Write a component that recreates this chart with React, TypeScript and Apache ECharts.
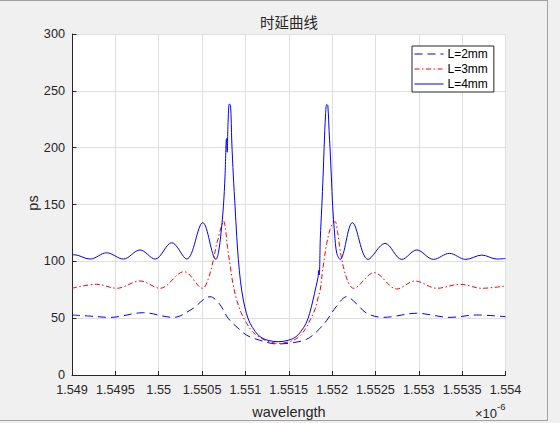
import React, { useEffect, useRef } from "react";
import * as echarts from "echarts";

// wavelength in nm (axis labels shown in µm ×10^-6 m), delay in ps
const title = "时延曲线";
const legendNames = ["L=2mm", "L=3mm", "L=4mm"];

const wl2 = [1549.0, 1549.208, 1549.438, 1549.823, 1550.169, 1550.384, 1550.592, 1550.696, 1550.8, 1550.904, 1551.015, 1551.169, 1551.365, 1551.538, 1551.708, 1551.827, 1551.938, 1552.046, 1552.169, 1552.277, 1552.4, 1552.592, 1552.977, 1553.361, 1553.669, 1554.0];
const ps2 = [52.8, 51.8, 50.7, 54.8, 50.7, 58, 68.9, 63, 50, 42, 35, 30.5, 27.3, 28.3, 31.5, 38.5, 48, 60, 68.9, 63, 54.3, 50.7, 54.3, 50.7, 52.8, 51.3];

const wl3 = [1549.0, 1549.285, 1549.516, 1549.785, 1550.015, 1550.292, 1550.508, 1550.569, 1550.63, 1550.667, 1550.69, 1550.699, 1550.725, 1550.748, 1550.771, 1550.794, 1550.823, 1550.857, 1550.9, 1550.95, 1551.015, 1551.088, 1551.169, 1551.261, 1551.388, 1551.515, 1551.607, 1551.688, 1551.746, 1551.804, 1551.842, 1551.861, 1551.884, 1551.913, 1551.938, 1551.976, 1552.005, 1552.034, 1552.063, 1552.092, 1552.13, 1552.184, 1552.246, 1552.484, 1552.746, 1552.957, 1553.208, 1553.477, 1553.727, 1554.0];
const ps3 = [76.3, 79.8, 76.3, 82.7, 76.3, 90.9, 76.3, 84, 101, 115, 121, 124.6, 131, 135.5, 128, 112, 97, 80, 66, 55, 45.5, 37.5, 33, 29.5, 27.8, 29.5, 33, 40, 48.4, 58, 69, 74, 88, 104, 115.8, 128, 133, 135, 126, 110, 95.3, 82, 76.3, 90, 75.7, 82.7, 76.3, 79.8, 76.3, 78.3];

const wl4 = [1549.0, 1549.023, 1549.208, 1549.4, 1549.592, 1549.785, 1549.958, 1550.15, 1550.323, 1550.508, 1550.661, 1550.69, 1550.719, 1550.746, 1550.765, 1550.782, 1550.79, 1550.8, 1550.815, 1550.829, 1550.843, 1550.861, 1550.881, 1550.9, 1550.919, 1550.944, 1550.976, 1551.013, 1551.054, 1551.111, 1551.169, 1551.261, 1551.377, 1551.492, 1551.584, 1551.642, 1551.7, 1551.74, 1551.78, 1551.815, 1551.838, 1551.845, 1551.852, 1551.864, 1551.881, 1551.896, 1551.908, 1551.925, 1551.938, 1551.951, 1551.965, 1551.976, 1551.991, 1552.007, 1552.028, 1552.054, 1552.092, 1552.234, 1552.415, 1552.611, 1552.804, 1552.977, 1553.168, 1553.353, 1553.542, 1553.727, 1553.9, 1554.0];
const ps4 = [105.5, 105.8, 102, 107.5, 102, 110, 102, 116.4, 102, 134, 101.7, 108, 125, 148, 175, 208, 196, 222, 238.5, 237, 205, 175, 148, 122, 101.5, 82, 66, 54, 45.5, 38.5, 33.7, 30.5, 29.3, 30.5, 33.7, 38.5, 45.5, 54, 66, 78, 86, 92, 88, 120, 148, 175, 200, 230, 238, 237, 215, 200, 175, 148, 125, 107, 101.7, 134, 101.7, 115.8, 101.7, 110, 101.7, 107, 101.7, 105.5, 102, 102.5];

const FONT = "'Liberation Sans', Arial, Helvetica, sans-serif";
const INK = "#262626";

export default function App() {
  const ref = useRef<HTMLDivElement>(null);
  useEffect(() => {
    document.body.style.margin = "0";
    if (!ref.current) return;
    const chart = echarts.init(ref.current, null, { renderer: "svg" });
    const pair = (xs: number[], ys: number[]) => xs.map((x, i) => [x, ys[i]]);
    chart.setOption({
      animation: false,
      backgroundColor: "#f0f0f0",
      textStyle: { fontFamily: FONT },
      grid: { left: 72, right: 54.5, top: 34, bottom: 48, backgroundColor: "#ffffff", show: true, borderWidth: 0 },
      legend: {
        orient: "vertical",
        left: 412,
        top: 46,
        padding: [2, 6, 2, 2],
        itemGap: 3,
        itemWidth: 29,
        itemHeight: 14,
        borderColor: INK,
        borderWidth: 1,
        borderRadius: 0,
        backgroundColor: "#ffffff",
        itemStyle: { opacity: 0, borderWidth: 0 },
        lineStyle: { width: 1 },
        textStyle: { fontFamily: FONT, fontSize: 12, color: "#000000", padding: [0, 0, 0, -1] },
        data: legendNames,
      },
      xAxis: {
        type: "value",
        min: 1549,
        max: 1554,
        interval: 0.5,
        axisLine: { show: true, onZero: false, lineStyle: { color: INK, width: 1 } },
        axisTick: { show: true, inside: true, length: 4, lineStyle: { color: INK } },
        axisLabel: {
          color: INK,
          fontSize: 12.7,
          fontFamily: FONT,
          margin: 8,
          formatter: (v: number) => String(Math.round(v * 10) / 10000),
        },
        splitLine: { show: true, lineStyle: { color: "#dfdfdf", width: 1 } },
      },
      yAxis: {
        type: "value",
        min: 0,
        max: 300,
        interval: 50,
        axisLine: { show: true, onZero: false, lineStyle: { color: INK, width: 1 } },
        axisTick: { show: true, inside: true, length: 4.5, lineStyle: { color: INK } },
        axisLabel: { color: INK, fontSize: 12.7, fontFamily: FONT, margin: 7 },
        splitLine: { show: true, lineStyle: { color: "#dfdfdf", width: 1 } },
      },
      graphic: [
        { type: "text", x: 289, y: 21, style: { text: title, font: "14.5px 'Noto Sans CJK SC', sans-serif", fill: INK, align: "center", verticalAlign: "middle" } },
        { type: "text", x: 289, y: 412, style: { text: "wavelength", font: `14.5px ${FONT}`, fill: INK, align: "center", verticalAlign: "middle" } },
        { type: "text", x: 33, y: 203, rotation: Math.PI / 2, style: { text: "ps", font: `14.5px ${FONT}`, fill: INK, align: "center", verticalAlign: "middle" } },
        { type: "text", x: 497, y: 413, style: { text: "×10", font: `13px ${FONT}`, fill: INK, align: "right", verticalAlign: "middle" } },
        { type: "text", x: 497, y: 406, style: { text: "-6", font: `9.5px ${FONT}`, fill: INK, align: "left", verticalAlign: "middle" } },
        { type: "line", shape: { x1: 0, y1: 0.5, x2: 547, y2: 0.5 }, style: { stroke: "#a0a0a0", lineWidth: 1 } },
        { type: "line", shape: { x1: 547.5, y1: 0, x2: 547.5, y2: 421 }, style: { stroke: "#a0a0a0", lineWidth: 1 } },
        { type: "line", shape: { x1: 0, y1: 420.5, x2: 547, y2: 420.5 }, style: { stroke: "#a0a0a0", lineWidth: 1 } },
      ],
      series: [
        {
          name: legendNames[0],
          type: "line",
          data: pair(wl2, ps2),
          smooth: 0.35,
          symbol: "none",
          lineStyle: { color: "#0000ff", width: 1, type: [8, 5] },
          itemStyle: { color: "#0000ff" },
        },
        {
          name: legendNames[1],
          type: "line",
          data: pair(wl3, ps3),
          smooth: 0.35,
          symbol: "none",
          lineStyle: { color: "#ff0000", width: 1, type: [5, 2.5, 1.5, 2.5] },
          itemStyle: { color: "#ff0000" },
        },
        {
          name: legendNames[2],
          type: "line",
          data: pair(wl4, ps4),
          smooth: 0.35,
          symbol: "none",
          lineStyle: { color: "#0000ff", width: 1, type: "solid" },
          itemStyle: { color: "#0000ff" },
        },
      ],
    });
    return () => chart.dispose();
  }, []);
  return <div ref={ref} style={{ width: 560, height: 423 }} />;
}
